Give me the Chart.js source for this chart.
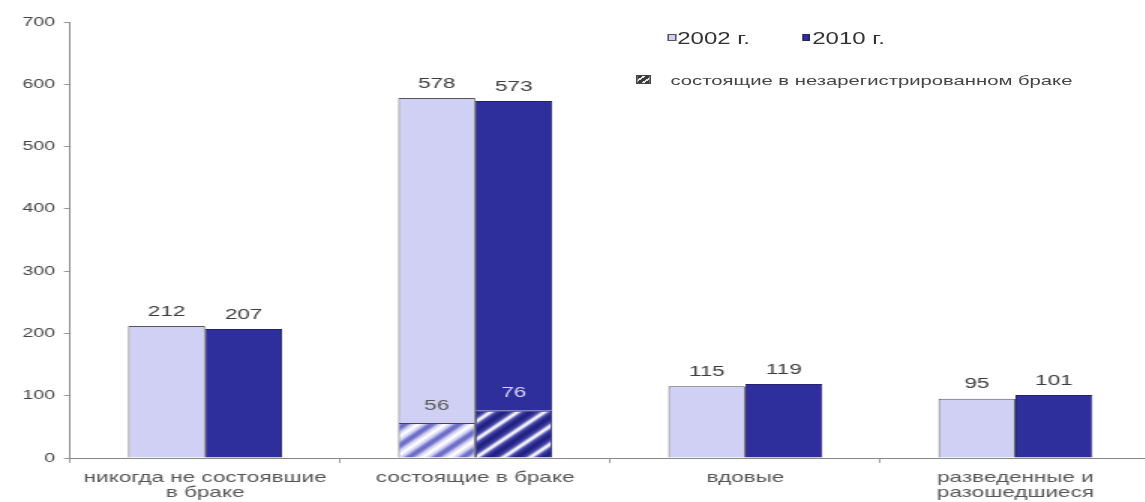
<!DOCTYPE html>
<html>
<head>
<meta charset="utf-8">
<script src="https://cdn.jsdelivr.net/npm/chart.js@4/dist/chart.umd.min.js"></script>
<style>
  html, body { margin: 0; padding: 0; background: #fff; overflow: hidden; width: 1145px; height: 502px; }
  /* the original picture is stretched sideways, so the whole chart is drawn narrow and widened */
  #wrap { position: absolute; left: 0; top: 0; width: 768px; height: 502px; transform: scaleX(1.5); transform-origin: 0 0; }
  .lg { position: absolute; font-family: Arial, "Liberation Sans", sans-serif; white-space: nowrap; }
  .sw { position: absolute; box-sizing: border-box; }
</style>
</head>
<body>
<div id="wrap">
  <canvas id="chart"></canvas>

  <div class="sw" style="left:445px; top:34px; width:5.5px; height:7px; background:#d0d0f4; border:1px solid #555;"></div>
  <div class="lg" style="left:451.5px; top:31px; font-size:16px; line-height:16px; color:#333;">2002 г.</div>
  <div class="sw" style="left:534.5px; top:34px; width:5.5px; height:7px; background:#2e2e9c; border:1px solid #22226e;"></div>
  <div class="lg" style="left:541.5px; top:31px; font-size:16px; line-height:16px; color:#333;">2010 г.</div>

  <div class="sw" style="left:424px; top:75px; width:10px; height:9px; border:1px solid #444; background:repeating-linear-gradient(135deg, #3a3a3a 0 2.5px, #e8e8e8 2.5px 4px);"></div>
  <div class="lg" style="left:447px; top:74px; font-size:13.5px; line-height:14px; color:#444;">состоящие в незарегистрированном браке</div>
</div>

<script>
// data (тыс. человек)
var categories = [['никогда не состоявшие', 'в браке'], 'состоящие в браке', 'вдовые', ['разведенные и', 'разошедшиеся']];
var total2002 = [212, 578, 115, 95];
var total2010 = [207, 573, 119, 101];
var unreg2002 = [null, 56, null, null];   // состоящие в незарегистрированном браке
var unreg2010 = [null, 76, null, null];

var lightBlue = '#d0d0f4';
var darkBlue = '#2e2e9c';
var fontFamily = 'Arial, "Liberation Sans", sans-serif';

// diagonal soft stripes for the unregistered part
function makeHatch(base, dark) {
    var P = 18;
    var c = document.createElement('canvas');
    c.width = P; c.height = P;
    var g = c.getContext('2d');
    var img = g.createImageData(P, P);
    for (var y = 0; y < P; y++) {
        for (var x = 0; x < P; x++) {
            var t = ((x + y) % P) / P;
            var cs = Math.cos(2 * Math.PI * t);
            var w = cs > 0 ? Math.pow(cs, 2) * 0.95 : 0;
            var d = cs < 0 ? Math.pow(-cs, 0.8) : 0;
            var k = (y * P + x) * 4;
            for (var ch = 0; ch < 3; ch++) {
                var v = base[ch] * (1 - d) + dark[ch] * d;
                img.data[k + ch] = Math.round(v * (1 - w) + 255 * w);
            }
            img.data[k + 3] = 255;
        }
    }
    g.putImageData(img, 0, 0);
    return g.createPattern(c, 'repeat');
}

var rest2002 = total2002.map(function(v, i) { return v - (unreg2002[i] || 0); });
var rest2010 = total2010.map(function(v, i) { return v - (unreg2010[i] || 0); });

var valueLabels = {
    id: 'valueLabels',
    afterDatasetsDraw: function(chart) {
        var ctx = chart.ctx;
        ctx.save();
        ctx.textAlign = 'center';
        ctx.textBaseline = 'bottom';
        ctx.font = '15px ' + fontFamily;

        // totals on top of each bar
        [[1, total2002], [3, total2010]].forEach(function(s) {
            var meta = chart.getDatasetMeta(s[0]);
            meta.data.forEach(function(bar, i) {
                ctx.fillStyle = '#3c3c3c';
                ctx.fillText(s[1][i], bar.x, bar.y - 7);
            });
        });

        // values of the hatched part
        [[0, unreg2002, '#5a5a5a'], [2, unreg2010, '#d8d8f2']].forEach(function(s) {
            var meta = chart.getDatasetMeta(s[0]);
            meta.data.forEach(function(bar, i) {
                if (s[1][i] == null) return;
                ctx.fillStyle = s[2];
                ctx.fillText(s[1][i], bar.x, bar.y - 10);
            });
        });
        ctx.restore();
    }
};

var ctx = document.getElementById('chart').getContext('2d');
var chart = new Chart(ctx,
{
    type: 'bar',
    data: {
        labels: categories,
        datasets: [
            {
                label: 'состоящие в незарегистрированном браке 2002',
                data: unreg2002,
                stack: 'y2002',
                backgroundColor: makeHatch([205, 205, 244], [108, 108, 200]),
                borderColor: '#444',
                borderWidth: 1
            },
            {
                label: '2002 г.',
                data: rest2002,
                stack: 'y2002',
                backgroundColor: lightBlue,
                borderColor: '#555',
                borderWidth: 1
            },
            {
                label: 'состоящие в незарегистрированном браке 2010',
                data: unreg2010,
                stack: 'y2010',
                backgroundColor: makeHatch([70, 70, 170], [34, 34, 130]),
                borderColor: '#22226e',
                borderWidth: 1
            },
            {
                label: '2010 г.',
                data: rest2010,
                stack: 'y2010',
                backgroundColor: darkBlue,
                borderColor: '#22226e',
                borderWidth: 1
            }
        ]
    },
    options: {
        responsive: true,
        maintainAspectRatio: false,
        animation: false,
        categoryPercentage: 0.57,
        barPercentage: 1.0,
        layout: { padding: { top: 22, right: 1, left: 0, bottom: 0 } },
        plugins: {
            legend: { display: false },
            tooltip: { enabled: false }
        },
        scales: {
            x: {
                stacked: true,
                grid: { drawOnChartArea: false, drawTicks: true, tickLength: 5, color: '#999' },
                border: { color: '#888', width: 1 },
                ticks: {
                    color: '#555',
                    font: { family: fontFamily, size: 15, lineHeight: 1.02 },
                    padding: 7,
                    maxRotation: 0,
                    autoSkip: false
                },
                afterFit: function(scale) { scale.height = 44; }
            },
            y: {
                stacked: true,
                min: 0,
                max: 700,
                grid: { drawOnChartArea: false, drawTicks: true, tickLength: 4, color: '#999' },
                border: { color: '#888', width: 1 },
                ticks: {
                    stepSize: 100,
                    color: '#444',
                    font: { family: fontFamily, size: 13 },
                    padding: 6
                },
                afterFit: function(scale) { scale.width = 46.7; }
            }
        }
    },
    plugins: [valueLabels]
});
</script>
</body>
</html>
